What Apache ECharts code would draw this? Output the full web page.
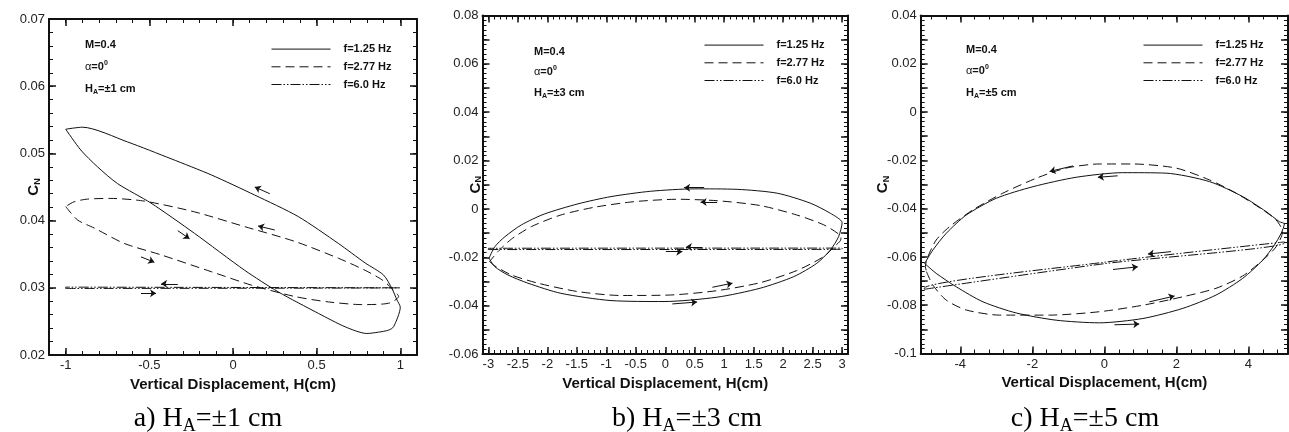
<!DOCTYPE html>
<html>
<head>
<meta charset="utf-8">
<script src="https://cdn.jsdelivr.net/npm/echarts@6/dist/echarts.min.js"></script>
<style>
  html, body { margin: 0; padding: 0; background: #fff; }
  #chart { width: 1289px; height: 432px; }
</style>
</head>
<body>
<div id="chart"></div>
<script>
// Normal-force coefficient C_N against vertical displacement H for a plunging model,
// M=0.4, alpha=0, three plunge frequencies and three amplitudes.

const seriesNames = ['f=1.25 Hz', 'f=2.77 Hz', 'f=6.0 Hz'];

// ---- H_A = ±1 cm : loops as [H, C_N] ----
const loopA_125 = [[-1.0,0.0536],[-0.91,0.0505],[-0.81,0.0480],[-0.69,0.0455],[-0.49,0.0426],[-0.23,0.0381],[0.07,0.0326],[0.27,0.0294],[0.51,0.0262],[0.67,0.0242],[0.80,0.0232],[0.87,0.0234],[0.93,0.0237],[0.96,0.0242],[1.0,0.0271],[0.98,0.0282],[0.95,0.0299],[0.90,0.0319],[0.79,0.0337],[0.63,0.0366],[0.39,0.0406],[0.13,0.0438],[-0.13,0.0468],[-0.37,0.0492],[-0.63,0.0517],[-0.90,0.0539],[-1.0,0.0536]];
const loopA_277 = [[-1.0,0.0421],[-0.93,0.0401],[-0.83,0.0389],[-0.65,0.0366],[-0.43,0.0349],[-0.13,0.0324],[0.11,0.0304],[0.37,0.0287],[0.57,0.0279],[0.77,0.0275],[0.93,0.0277],[0.99,0.0287],[0.95,0.0299],[0.89,0.0312],[0.79,0.0326],[0.63,0.0344],[0.37,0.0369],[0.07,0.0391],[-0.23,0.0413],[-0.53,0.0429],[-0.73,0.0433],[-0.87,0.0432],[-0.95,0.0428],[-1.0,0.0421]];
const loopA_600 = [[-1.0,0.0299],[1.0,0.0300],[1.0,0.0301],[-1.0,0.0301],[-1.0,0.0299]];
// direction arrows [H tail, C tail, H head, C head]
const arrowsA = [[0.22,0.0440,0.13,0.0450],[-0.33,0.0385,-0.26,0.0373],[0.25,0.0386,0.15,0.0392],[-0.55,0.0346,-0.47,0.0338],[-0.33,0.0306,-0.43,0.0306],[-0.55,0.0292,-0.46,0.0292]];

// ---- H_A = ±3 cm ----
const loopB_125 = [[-2.99,-0.0204],[-2.89,-0.0239],[-2.67,-0.0273],[-2.33,-0.0307],[-1.77,-0.0349],[-0.92,-0.0379],[-0.02,-0.0383],[0.88,-0.0365],[1.61,-0.0328],[2.18,-0.0280],[2.57,-0.0225],[2.80,-0.0170],[2.94,-0.0115],[3.0,-0.0057],[2.80,-0.0018],[2.46,0.0024],[1.90,0.0065],[1.22,0.0081],[0.49,0.0083],[-0.25,0.0073],[-0.92,0.0051],[-1.48,0.0021],[-2.05,-0.0021],[-2.44,-0.0066],[-2.72,-0.0115],[-2.89,-0.0156],[-2.99,-0.0204]];
const loopB_277 = [[-2.98,-0.0218],[-2.89,-0.0236],[-2.61,-0.0273],[-2.16,-0.0307],[-1.48,-0.0342],[-0.75,-0.0358],[0.09,-0.0356],[0.88,-0.0338],[1.61,-0.0305],[2.23,-0.0255],[2.69,-0.0197],[2.85,-0.0160],[2.98,-0.0125],[2.97,-0.0110],[2.69,-0.0066],[2.23,-0.0025],[1.61,0.0014],[0.88,0.0034],[0.21,0.0040],[-0.53,0.0030],[-1.20,0.0007],[-1.77,-0.0025],[-2.27,-0.0073],[-2.61,-0.0125],[-2.84,-0.0177],[-2.98,-0.0218]];
const loopB_600 = [[-3.0,-0.0168],[3.0,-0.0167],[3.0,-0.0162],[-3.0,-0.0163],[-3.0,-0.0168]];
const arrowsB = [[0.66,0.0088,0.32,0.0088],[0.88,0.0029,0.60,0.0029],[0.63,-0.0157,0.35,-0.0157],[0.01,-0.0177,0.29,-0.0177],[0.80,-0.0324,1.14,-0.0307],[0.12,-0.0393,0.54,-0.0385]];

// ---- H_A = ±5 cm ----
const loopC_125 = [[-4.99,-0.0627],[-4.67,-0.0668],[-4.11,-0.0724],[-3.37,-0.0786],[-2.45,-0.0832],[-1.34,-0.0862],[-0.14,-0.0873],[1.07,-0.0855],[2.18,-0.0813],[3.10,-0.0758],[3.84,-0.0689],[4.40,-0.0613],[4.72,-0.0551],[4.91,-0.0502],[5.0,-0.0463],[4.86,-0.0454],[4.49,-0.0412],[3.84,-0.0350],[2.92,-0.0288],[1.71,-0.0253],[0.51,-0.0251],[-0.78,-0.0270],[-1.98,-0.0309],[-3.00,-0.0357],[-3.83,-0.0426],[-4.39,-0.0502],[-4.76,-0.0571],[-4.99,-0.0627]];
const loopC_277 = [[-4.94,-0.0661],[-4.76,-0.0717],[-4.39,-0.0779],[-3.83,-0.0820],[-2.91,-0.0841],[-1.52,-0.0841],[-0.14,-0.0827],[1.07,-0.0800],[2.18,-0.0765],[3.10,-0.0730],[3.84,-0.0679],[4.40,-0.0613],[4.77,-0.0558],[4.95,-0.0495],[4.77,-0.0447],[4.40,-0.0405],[3.66,-0.0336],[2.92,-0.0281],[1.99,-0.0232],[0.79,-0.0215],[-0.14,-0.0215],[-1.06,-0.0232],[-1.89,-0.0274],[-2.82,-0.0336],[-3.65,-0.0405],[-4.30,-0.0475],[-4.67,-0.0530],[-4.90,-0.0599],[-4.97,-0.0640],[-4.94,-0.0661]];
const loopC_600 = [[-5.0,-0.0734],[0.0,-0.0628],[5.0,-0.0542],[5.0,-0.0538],[0.0,-0.0622],[-5.0,-0.0730],[-5.0,-0.0734]];
const arrowsC = [[-0.87,-0.0223,-1.52,-0.0246],[0.37,-0.0264,-0.18,-0.0270],[1.85,-0.0578,1.21,-0.0588],[0.24,-0.0652,0.93,-0.0641],[1.25,-0.0786,1.95,-0.0762],[0.28,-0.0881,0.97,-0.0878]];

// ---- axis ranges, labelled values and tick steps ----
const xRangeA = [-1.1, 1.1], xLabelsA = [-1, -0.5, 0, 0.5, 1], xStepsA = [0.5, 0.1];
const yRangeA = [0.02, 0.07], yLabelsA = [0.02, 0.03, 0.04, 0.05, 0.06, 0.07], yStepsA = [0.01, 0.002];
const xRangeB = [-3.1, 3.1], xLabelsB = [-3, -2.5, -2, -1.5, -1, -0.5, 0, 0.5, 1, 1.5, 2, 2.5, 3], xStepsB = [0.5, 0.1];
const yRangeB = [-0.06, 0.08], yLabelsB = [-0.06, -0.04, -0.02, 0, 0.02, 0.04, 0.06, 0.08], yStepsB = [0.01, 0.002];
const xRangeC = [-5.1, 5.1], xLabelsC = [-4, -2, 0, 2, 4], xStepsC = [2, 0.4];
const yRangeC = [-0.1, 0.04], yLabelsC = [-0.1, -0.08, -0.06, -0.04, -0.02, 0, 0.02, 0.04], yStepsC = [0.01, 0.002];

const amplitudes = ['1', '3', '5'];
const captionLetters = ['a)', 'b)', 'c)'];

const FONT = 'Arial, "Liberation Sans", sans-serif';
const SERIF = '"Times New Roman", "Liberation Serif", serif';
const INK = '#111';

function multiples(range, step) {
  const out = [];
  const k0 = Math.ceil(range[0] / step - 1e-9), k1 = Math.floor(range[1] / step + 1e-9);
  for (let k = k0; k <= k1; k++) out.push(+(k * step).toFixed(6));
  return out;
}

// four sides, each with a long-tick axis and a short-tick axis
function sideAxes(dim, grid, range, labels, steps, name, nameGap) {
  const isX = dim === 'x';
  const major = multiples(range, steps[0]);
  const minor = multiples(range, steps[1]);
  const base = { type: 'value', gridIndex: grid, min: range[0], max: range[1], splitLine: { show: false } };
  const line = { show: true, onZero: false, lineStyle: { color: INK, width: 2 } };
  const noLine = { show: false, onZero: false };
  const pos = isX ? ['bottom', 'top'] : ['left', 'right'];
  const axes = [];
  // main side: labels, long ticks, title
  axes.push(Object.assign({}, base, {
    position: pos[0], axisLine: line,
    axisTick: { show: true, inside: true, length: 7, customValues: major, lineStyle: { color: INK, width: 1.5 } },
    axisLabel: { show: true, customValues: labels, margin: 4, fontSize: 13, color: '#222', fontFamily: FONT },
    name: name, nameLocation: 'middle', nameGap: nameGap, nameMoveOverlap: false,
    nameRotate: isX ? 0 : 90,
    nameTextStyle: isX
      ? { fontFamily: FONT, fontWeight: 'bold', fontSize: 15, color: INK }
      : { fontFamily: FONT, color: INK, rich: {
          c: { fontFamily: FONT, fontWeight: 'bold', fontSize: 15, color: INK, lineHeight: 16 },
          n: { fontFamily: FONT, fontWeight: 'bold', fontSize: 9, color: INK, lineHeight: 16, verticalAlign: 'bottom', padding: [5, 0, 0, 0] }
        } }
  }));
  axes.push(Object.assign({}, base, {
    position: pos[0], axisLine: noLine,
    axisTick: { show: true, inside: true, length: 4, customValues: minor, lineStyle: { color: INK, width: 1 } },
    axisLabel: { show: false }
  }));
  axes.push(Object.assign({}, base, {
    position: pos[1], axisLine: line,
    axisTick: { show: true, inside: true, length: 7, customValues: major, lineStyle: { color: INK, width: 1.5 } },
    axisLabel: { show: false }
  }));
  axes.push(Object.assign({}, base, {
    position: pos[1], axisLine: noLine,
    axisTick: { show: true, inside: true, length: 4, customValues: minor, lineStyle: { color: INK, width: 1 } },
    axisLabel: { show: false }
  }));
  return axes;
}

const panels = [
  { loops: [loopA_125, loopA_277, loopA_600], arrows: arrowsA,
    x: [xRangeA, xLabelsA, xStepsA], y: [yRangeA, yLabelsA, yStepsA],
    grid: { left: 49, top: 19, width: 368, height: 336 }, yNameGap: 7,
    legend: { left: 271, top: 43.5 }, note: { x: 85, y: [45, 66.5, 88.5] }, caption: 208 },
  { loops: [loopB_125, loopB_277, loopB_600], arrows: arrowsB,
    x: [xRangeB, xLabelsB, xStepsB], y: [yRangeB, yLabelsB, yStepsB],
    grid: { left: 482.5, top: 15.5, width: 365.5, height: 338.5 }, yNameGap: -1,
    legend: { left: 704, top: 39.5 }, note: { x: 534, y: [51.5, 71.5, 93] }, caption: 687 },
  { loops: [loopC_125, loopC_277, loopC_600], arrows: arrowsC,
    x: [xRangeC, xLabelsC, xStepsC], y: [yRangeC, yLabelsC, yStepsC],
    grid: { left: 920.7, top: 15.5, width: 367.3, height: 338 }, yNameGap: 30,
    legend: { left: 1143, top: 39.5 }, note: { x: 966, y: [49.5, 71, 92.5] }, caption: 1085 }
];

const lineStyles = [
  { color: INK, width: 1, type: 'solid' },
  { color: INK, width: 1, type: [9, 5] },
  { color: INK, width: 1, type: [10, 2, 1.5, 2, 1.5, 2] }
];

const grids = [], xAxes = [], yAxes = [], series = [], legends = [], graphics = [];

panels.forEach((p, i) => {
  grids.push(p.grid);
  const xi = xAxes.length, yi = yAxes.length;
  xAxes.push(...sideAxes('x', i, p.x[0], p.x[1], p.x[2], 'Vertical Displacement, H(cm)', 22));
  yAxes.push(...sideAxes('y', i, p.y[0], p.y[1], p.y[2], '{c|C}{n|N}', p.yNameGap));

  p.loops.forEach((loop, k) => {
    series.push({
      type: 'line', name: seriesNames[k], xAxisIndex: xi, yAxisIndex: yi,
      data: loop, symbol: 'none', smooth: 0.25, lineStyle: lineStyles[k],
      itemStyle: { color: INK }, silent: true, z: 3 - k
    });
  });
  series.push({
    type: 'lines', coordinateSystem: 'cartesian2d', xAxisIndex: xi, yAxisIndex: yi,
    symbol: ['none', 'arrow'], symbolSize: 6, silent: true, z: 4,
    lineStyle: { color: INK, width: 1, opacity: 1, curveness: 0 },
    data: p.arrows.map(a => ({ coords: [[a[0], a[1]], [a[2], a[3]]] }))
  });

  legends.push({
    data: seriesNames, orient: 'vertical', left: p.legend.left, top: p.legend.top,
    itemWidth: 59, itemHeight: 14, itemGap: 6.5, selectedMode: false, padding: 0,
    itemStyle: { opacity: 0, color: 'transparent', borderWidth: 0 },
    lineStyle: { width: 1, color: INK },
    textStyle: { fontFamily: FONT, fontWeight: 'bold', fontSize: 11, color: INK, padding: [0, 0, 0, 8] }
  });

  const noteRich = {
    b: { fontFamily: FONT, fontWeight: 'bold', fontSize: 11, fill: INK, lineHeight: 14 },
    g: { fontFamily: FONT, fontSize: 11, fill: INK, lineHeight: 14 },
    sup: { fontFamily: FONT, fontWeight: 'bold', fontSize: 7, fill: INK, lineHeight: 14, verticalAlign: 'top' },
    sub: { fontFamily: FONT, fontWeight: 'bold', fontSize: 7, fill: INK, lineHeight: 14, verticalAlign: 'bottom', padding: [5, 0, 0, 0] }
  };
  const notes = ['{b|M=0.4}', '{g|α}{b|=0}{sup|0}', '{b|H}{sub|A}{b|=±' + amplitudes[i] + ' cm}'];
  notes.forEach((t, k) => {
    graphics.push({ type: 'text', x: p.note.x, y: p.note.y[k], silent: true,
      style: { text: t, rich: noteRich, align: 'left', verticalAlign: 'middle', font: 'bold 11px ' + FONT, fill: INK } });
  });

  graphics.push({ type: 'text', x: p.caption, y: 419, silent: true,
    style: {
      text: '{t|' + captionLetters[i] + ' H}{s|A}{t|=±' + amplitudes[i] + ' cm}',
      align: 'center', verticalAlign: 'middle', fill: '#000', font: '28px ' + SERIF,
      rich: {
        t: { fontFamily: SERIF, fontSize: 28, fill: '#000', lineHeight: 32 },
        s: { fontFamily: SERIF, fontSize: 18, fill: '#000', lineHeight: 32, verticalAlign: 'bottom', padding: [9, 0, 0, 0] }
      }
    } });
});

const chart = echarts.init(document.getElementById('chart'), null, { renderer: 'canvas' });
chart.setOption({
  backgroundColor: '#fff',
  animation: false,
  grid: grids,
  xAxis: xAxes,
  yAxis: yAxes,
  legend: legends,
  series: series,
  graphic: graphics
});
</script>
</body>
</html>
